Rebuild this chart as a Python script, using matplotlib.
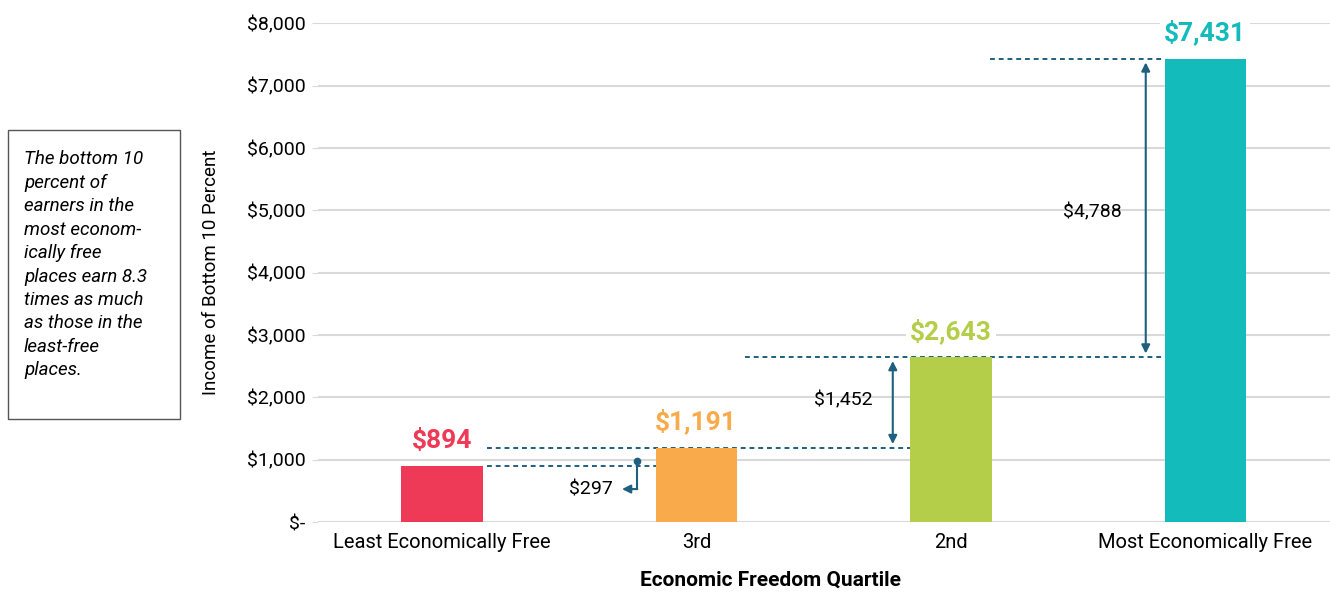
import matplotlib

matplotlib.use("Agg")

import matplotlib.pyplot as plt
from matplotlib.patches import Rectangle

quartiles = ["Least Economically Free", "3rd", "2nd", "Most Economically Free"]
incomes = [894, 1191, 2643, 7431]
value_labels = ["$894", "$1,191", "$2,643", "$7,431"]
gaps = [297, 1452, 4788]
gap_labels = ["$297", "$1,452", "$4,788"]
yticks = [0, 1000, 2000, 3000, 4000, 5000, 6000, 7000, 8000]
ytick_labels = ["$-", "$1,000", "$2,000", "$3,000", "$4,000", "$5,000", "$6,000", "$7,000", "$8,000"]
note = ("The bottom 10\npercent of\nearners in the\nmost econom-\nically free\n"
        "places earn 8.3\ntimes as much\nas those in the\nleast-free\nplaces.")

BAR_COLORS = ["#EE3A57", "#F9AA4B", "#B5CE4A", "#13BBBA"]
LINK = "#1F5F7F"
GRID = "#D9D9D9"

plt.rcParams["font.family"] = ["Roboto", "DejaVu Sans"]

fig = plt.figure(figsize=(13.3, 5.94), dpi=100)
ax = fig.add_axes([0.239, 0.121, 0.761, 0.840])

x = list(range(len(quartiles)))
w = 0.32
ax.bar(x, incomes, width=w, color=BAR_COLORS, zorder=3)

for xi, v, lab, c in zip(x, incomes, value_labels, BAR_COLORS):
    ax.annotate(lab, (xi, v), xytext=(0, 9.5), textcoords="offset points",
                ha="center", va="bottom", fontsize=19, fontweight="bold", color=c,
                annotation_clip=False, zorder=5,
                bbox=dict(boxstyle="square,pad=0.15", fc="white", ec="none"))

dash = dict(color=LINK, lw=1.4, ls=(0, (2.5, 2)), zorder=2)
ax.plot([0.177, 1 - w / 2], [incomes[0]] * 2, **dash)
ax.plot([0.177, 2 - w / 2], [incomes[1]] * 2, **dash)
ax.plot([1.19, 3 - w / 2], [incomes[2]] * 2, **dash)
ax.plot([2.153, 3 - w / 2], [incomes[3]] * 2, **dash)

# $297: bent pointer
ax.plot([0.766, 0.766], [977, 530], color=LINK, lw=1.5, zorder=4)
ax.plot([0.766], [977], "o", color=LINK, ms=4.5, zorder=4)
ax.annotate("", xy=(0.708, 530), xytext=(0.768, 530),
            arrowprops=dict(arrowstyle="-|>,head_length=0.5,head_width=0.25", color=LINK, lw=1.5,
                            shrinkA=0, shrinkB=0))
ax.text(0.672, 530, gap_labels[0], ha="right", va="center", fontsize=14)

# $1,452 and $4,788 double arrows
for xa, lo, hi, xl, yl, lab in [(1.772, incomes[1], incomes[2], 1.693, 1950, gap_labels[1]),
                                (2.766, incomes[2], incomes[3], 2.672, 4970, gap_labels[2])]:
    ax.annotate("", xy=(xa, hi - 60), xytext=(xa, lo + 60),
                arrowprops=dict(arrowstyle="<|-|>,head_length=0.5,head_width=0.25", color=LINK,
                                lw=1.5, shrinkA=0, shrinkB=0), zorder=4)
    ax.text(xl, yl, lab, ha="right", va="center", fontsize=14)

ax.set_xlim(-0.487, 3.49)
ax.set_ylim(0, 8000)
ax.set_yticks(yticks)
ax.set_yticklabels(ytick_labels, fontsize=14)
ax.set_xticks(x)
ax.set_xticklabels(quartiles, fontsize=14.5)
ax.tick_params(axis="y", length=4, color=GRID, pad=5)
ax.tick_params(axis="x", length=0, pad=8)
ax.grid(axis="y", color=GRID, lw=1.5, zorder=0)
ax.set_axisbelow(True)
for s in ax.spines.values():
    s.set_visible(False)

ax.set_ylabel("Income of Bottom 10 Percent", fontsize=13.5)
ax.yaxis.set_label_coords(-0.097, 0.5)
ax.set_xlabel("Economic Freedom Quartile", fontsize=15, fontweight="bold")
ax.xaxis.set_label_coords(0.447, -0.098)

fig.patches.append(Rectangle((8 / 1330, 1 - 419 / 594), 172 / 1330, 289 / 594,
                             transform=fig.transFigure, fill=False, ec="#555555", lw=1))
fig.text(24 / 1330, 1 - 150 / 594, note, ha="left", va="top", fontsize=13.5,
         style="italic", linespacing=1.39)

fig.savefig("out.png", dpi=100)
